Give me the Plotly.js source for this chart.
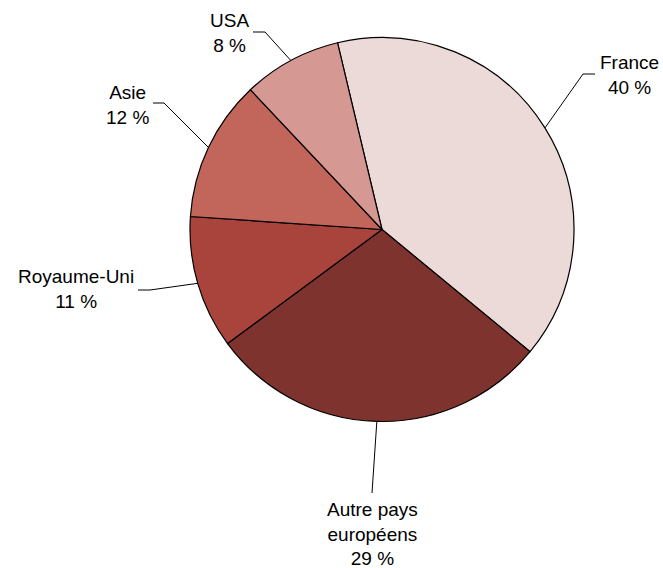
<!DOCTYPE html>
<html>
<head>
<meta charset="utf-8">
<script src="https://cdn.plot.ly/plotly-3.0.1.min.js"></script>
<style>html,body{margin:0;padding:0;background:#fff;}#chart{width:663px;height:568px;}</style>
</head>
<body>
<div id="chart"></div>
<script>
// ---- data ----
const categories = ['France', 'Autre pays européens', 'Royaume-Uni', 'Asie', 'USA'];
const shares = [39.7, 28.9, 11.2, 11.9, 8.3];          // slice sizes
const labelLines = ['France', 'Autre pays<br>européens', 'Royaume-Uni', 'Asie', 'USA'];
const percentLabels = ['40 %', '29 %', '11 %', '12 %', '8 %'];
const sliceColors = ['#EBDAD8', '#7F332E', '#A8443C', '#C2665C', '#D59892'];

// ---- layout constants (pixels) ----
const W = 663, H = 568;
const cx = 382, cy = 229.5, R = 192;
const rotationDeg = -13.4;
// leader line elbow/end points and label centres
const leaderBends = [
  [[583, 74], [595, 74]],
  [[372, 493]],
  [[150, 290], [138, 290]],
  [[164, 103], [153, 103]],
  [[265, 32], [253, 32]]
];
const labelCenters = [[629, 75], [372, 534], [76, 289], [127, 105], [229, 33]];

const px = x => x / W;
const py = y => 1 - y / H;

const total = shares.reduce((a, b) => a + b, 0);
let acc = rotationDeg;
const shapes = [];
const annotations = [];
shares.forEach((v, i) => {
  const mid = (acc + (v / total) * 360 / 2) * Math.PI / 180;
  acc += (v / total) * 360;
  const sx = cx + R * Math.sin(mid);
  const sy = cy - R * Math.cos(mid);
  let path = 'M ' + px(sx) + ' ' + py(sy);
  leaderBends[i].forEach(p => { path += ' L ' + px(p[0]) + ' ' + py(p[1]); });
  shapes.push({type: 'path', xref: 'paper', yref: 'paper', path: path,
               line: {color: '#000', width: 1}});
  annotations.push({
    xref: 'paper', yref: 'paper',
    x: px(labelCenters[i][0]), y: py(labelCenters[i][1]),
    xanchor: 'center', yanchor: 'middle', align: 'center',
    showarrow: false,
    text: labelLines[i] + '<br>' + percentLabels[i],
    font: {family: 'Liberation Sans, Arial, sans-serif', size: 19, color: '#000'}
  });
});

const trace = {
  type: 'pie',
  labels: categories,
  values: shares,
  sort: false,
  direction: 'clockwise',
  rotation: rotationDeg,
  textinfo: 'none',
  hoverinfo: 'label+percent',
  marker: {colors: sliceColors, line: {color: '#000', width: 1.2}},
  domain: {x: [px(cx - R), px(cx + R)], y: [1 - (cy + R) / H, 1 - (cy - R) / H]}
};

const layout = {
  width: W, height: H,
  margin: {l: 0, r: 0, t: 0, b: 0},
  paper_bgcolor: '#fff',
  showlegend: false,
  shapes: shapes,
  annotations: annotations,
  font: {family: 'Liberation Sans, Arial, sans-serif'}
};

Plotly.newPlot('chart', [trace], layout, {staticPlot: true});
</script>
</body>
</html>
